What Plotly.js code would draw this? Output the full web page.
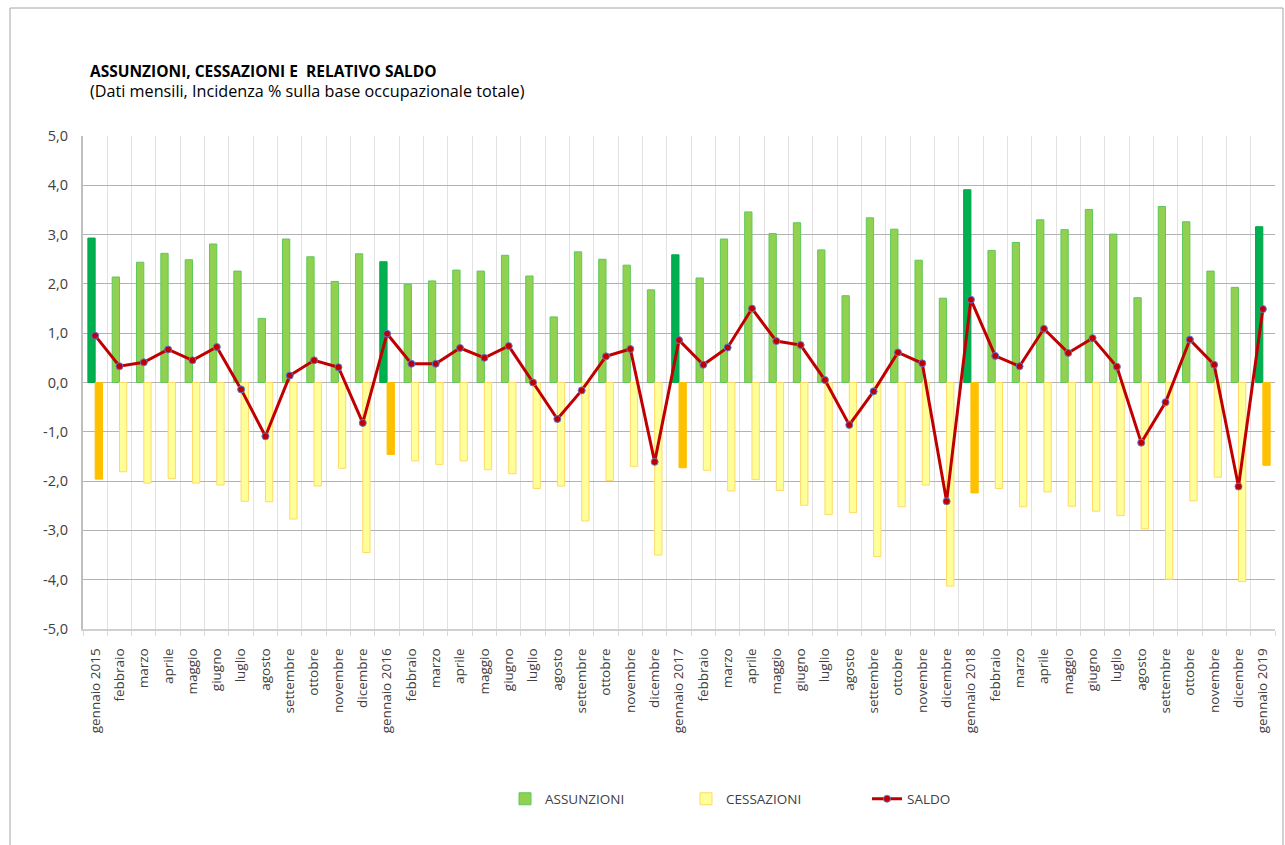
<!DOCTYPE html>
<html>
<head>
<meta charset="utf-8">
<script src="https://cdn.plot.ly/plotly-3.0.1.min.js"></script>
<style>
html,body{margin:0;padding:0;background:#fff;}
#chart{width:1285px;height:845px;}
</style>
</head>
<body>
<div id="chart"></div>
<script>
const months = [
  "gennaio 2015","febbraio","marzo","aprile","maggio","giugno","luglio","agosto","settembre","ottobre","novembre","dicembre",
  "gennaio 2016","febbraio","marzo","aprile","maggio","giugno","luglio","agosto","settembre","ottobre","novembre","dicembre",
  "gennaio 2017","febbraio","marzo","aprile","maggio","giugno","luglio","agosto","settembre","ottobre","novembre","dicembre",
  "gennaio 2018","febbraio","marzo","aprile","maggio","giugno","luglio","agosto","settembre","ottobre","novembre","dicembre",
  "gennaio 2019"
];
const assunzioni = [
  2.93,2.14,2.44,2.62,2.49,2.81,2.26,1.30,2.91,2.55,2.05,2.61,
  2.45,1.99,2.06,2.28,2.26,2.58,2.16,1.33,2.65,2.50,2.38,1.88,
  2.59,2.12,2.91,3.46,3.02,3.24,2.69,1.76,3.34,3.11,2.48,1.71,
  3.91,2.68,2.84,3.30,3.10,3.51,3.01,1.72,3.57,3.26,2.26,1.93,
  3.16
];
const cessazioni = [
  -1.96,-1.81,-2.04,-1.95,-2.04,-2.08,-2.41,-2.42,-2.77,-2.10,-1.74,-3.45,
  -1.46,-1.59,-1.66,-1.59,-1.77,-1.85,-2.15,-2.10,-2.81,-1.99,-1.70,-3.50,
  -1.73,-1.78,-2.20,-1.97,-2.19,-2.49,-2.68,-2.64,-3.53,-2.52,-2.08,-4.13,
  -2.24,-2.15,-2.52,-2.22,-2.51,-2.61,-2.70,-2.97,-3.99,-2.40,-1.92,-4.04,
  -1.68
];
const saldo = [
  0.95,0.33,0.41,0.67,0.45,0.72,-0.14,-1.09,0.14,0.45,0.31,-0.82,
  0.99,0.38,0.38,0.70,0.50,0.74,0.00,-0.74,-0.16,0.53,0.68,-1.61,
  0.86,0.36,0.71,1.50,0.84,0.76,0.05,-0.86,-0.18,0.61,0.39,-2.41,
  1.68,0.54,0.33,1.09,0.60,0.90,0.32,-1.22,-0.40,0.87,0.36,-2.11,
  1.49
];
const yTicks = [-5,-4,-3,-2,-1,0,1,2,3,4,5];
const yTickText = yTicks.map(v => v.toFixed(1).replace('.', ','));

const idx = months.map((m,i)=>i);
const isJan = months.map(m=>m.startsWith("gennaio"));
const pick = (arr, cond) => arr.filter((v,i)=>isJan[i]===cond);

const font = "'Open Sans', 'Noto Sans', sans-serif";

const traces = [
  {type:'bar', name:'ASSUNZIONI', x:pick(idx,false), y:pick(assunzioni,false), offsetgroup:'a',
   marker:{color:'#92D050', line:{color:'#5CC85C', width:1}}, legendrank:1},
  {type:'bar', name:'ASSUNZIONI gen', x:pick(idx,true), y:pick(assunzioni,true), offsetgroup:'a', showlegend:false,
   marker:{color:'#00B050', line:{color:'#00A84A', width:1}}},
  {type:'bar', name:'CESSAZIONI', x:pick(idx,false), y:pick(cessazioni,false), offsetgroup:'b',
   marker:{color:'#FFFF99', line:{color:'#FFD966', width:1}}, legendrank:2},
  {type:'bar', name:'CESSAZIONI gen', x:pick(idx,true), y:pick(cessazioni,true), offsetgroup:'b', showlegend:false,
   marker:{color:'#FFC000', line:{color:'#FFC000', width:1}}},
  {type:'scatter', mode:'lines+markers', name:'SALDO', x:idx, y:saldo,
   line:{color:'#C00000', width:3},
   marker:{color:'#C00000', size:7, line:{color:'#5B7BD5', width:1}}, legendrank:3}
];

const layout = {
  width:1285, height:845,
  margin:{l:83, r:10, t:136, b:216},
  paper_bgcolor:'#fff', plot_bgcolor:'#fff',
  separators:',.',
  font:{family:font, color:'#404040'},
  barmode:'group', bargap:0.4, bargroupgap:0,
  title:{
    text:'<b>ASSUNZIONI, CESSAZIONI E  RELATIVO SALDO</b><br><span style="font-size:16.2px">(Dati mensili, Incidenza % sulla base occupazionale totale)</span>',
    x:90/1285, xref:'container', xanchor:'left',
    y:1-77/845, yref:'container', yanchor:'top',
    font:{family:font, size:15.5, color:'#000'}
  },
  xaxis:{
    range:[-0.5, months.length-0.5],
    tickmode:'array', tickvals:idx, ticktext:months,
    tickangle:-90, tickfont:{size:13.5, color:'#404040'},
    ticks:'', showgrid:false, zeroline:false,
    showline:true, linecolor:'#d0d0d0', linewidth:2,
    ticklabelstandoff:12,
    minor:{tickmode:'linear', tick0:-0.5, dtick:1, showgrid:true, gridcolor:'#e2e2e2', gridwidth:1, ticks:'outside', ticklen:5, tickcolor:'#d9d9d9'}
  },
  yaxis:{
    range:[-5,5], tickmode:'array', tickvals:yTicks, ticktext:yTickText,
    tickfont:{size:14.5, color:'#404040'},
    showgrid:true, gridcolor:'#b3b3b3', gridwidth:1,
    zeroline:true, zerolinecolor:'#b3b3b3', zerolinewidth:1,
    showline:true, linecolor:'#bfbfbf', linewidth:2,
    ticks:'', ticklabelstandoff:10
  },
  legend:{
    orientation:'h', x:(505-83)/1192, xanchor:'left', y:(629-799)/493, yanchor:'middle',
    entrywidth:136, font:{size:13.5, color:'#404040'}, traceorder:'normal'
  },
  shapes:[
    {type:'rect', xref:'paper', yref:'paper', x0:(10-83)/1192, x1:(1283-83)/1192, y0:-0.6, y1:(629-8)/493,
     line:{color:'#a6a6a6', width:1}, fillcolor:'rgba(0,0,0,0)', layer:'below'}
  ],
  showlegend:true
};

Plotly.newPlot('chart', traces, layout, {displayModeBar:false, staticPlot:true});
</script>
</body>
</html>
